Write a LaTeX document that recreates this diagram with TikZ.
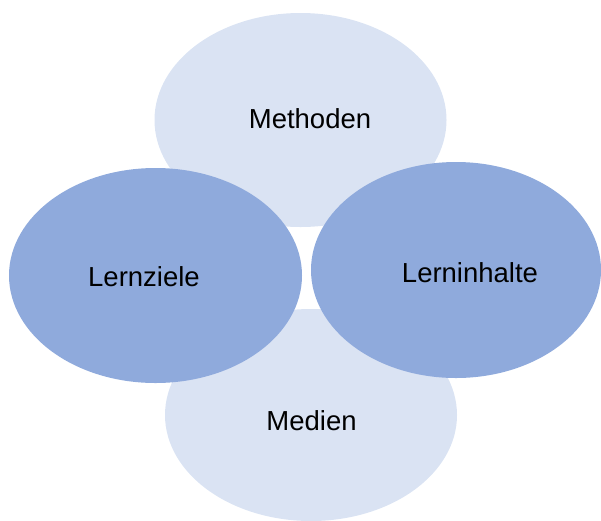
\documentclass[tikz,border=0pt]{standalone}
\usepackage{fontspec}
\setmainfont{Liberation Sans}
\usetikzlibrary{shapes.geometric}
\definecolor{paleblue}{HTML}{DAE3F3}
\definecolor{midblue}{HTML}{8FAADC}
\tikzset{
  blob/.style={ellipse, inner sep=0pt, draw=none},
  light/.style={blob, fill=paleblue},
  dark/.style={blob, fill=midblue},
  caption/.style={anchor=base, inner sep=0pt, font=\fontsize{27.5}{30}\selectfont, text=black}
}
\begin{document}
\begin{tikzpicture}[x=1pt, y=-1pt]
  \useasboundingbox (0,0) rectangle (601,520);
  % pale ellipses at top and bottom
  \node[light, minimum width=292pt, minimum height=214pt] (meth) at (300.5,120) {};
  \node[light, minimum width=292pt, minimum height=212pt] (med) at (311,415) {};
  % darker ellipses left and right, drawn on top
  \node[dark, minimum width=293pt, minimum height=215pt] (ziel) at (155.5,275.5) {};
  \node[dark, minimum width=290pt, minimum height=216pt] (inh) at (456,270) {};
  % labels
  \node[caption] (tmeth) at (310,128) {Methoden};
  \node[caption] (tmed) at (311.5,430) {Medien};
  \node[caption] (tziel) at (144,286) {Lernziele};
  \node[caption] (tinh) at (470,282) {Lerninhalte};
\end{tikzpicture}
\end{document}
